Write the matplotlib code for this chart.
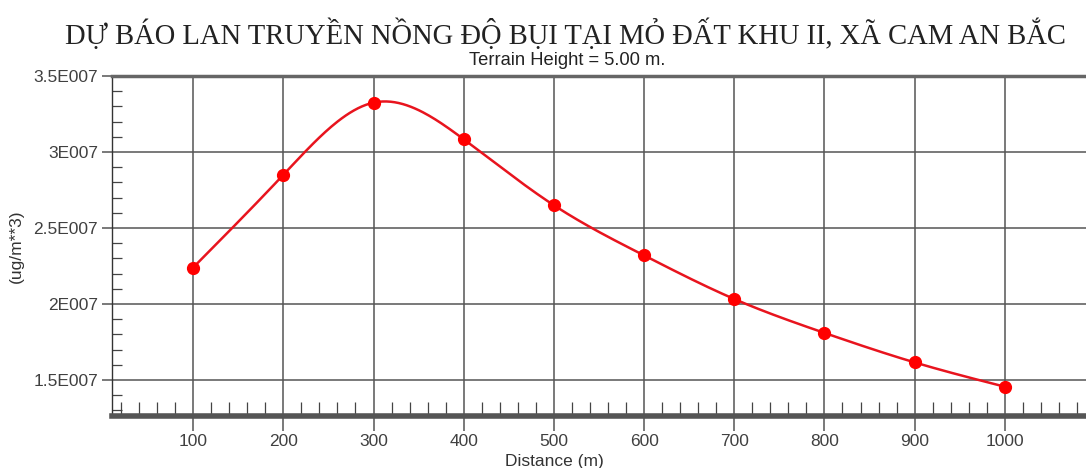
import matplotlib
matplotlib.use("Agg")
import matplotlib.pyplot as plt
import numpy as np
from matplotlib.ticker import MultipleLocator, FixedLocator, FuncFormatter

# du lieu doc tu hinh
distance = [100, 200, 300, 400, 500, 600, 700, 800, 900, 1000]
conc = [2.24e7, 2.85e7, 3.325e7, 3.084e7, 2.65e7, 2.32e7, 2.033e7, 1.81e7, 1.616e7, 1.456e7]
ytick_vals = [1.5e7, 2e7, 2.5e7, 3e7, 3.5e7]
ytick_text = ["1.5E007", "2E007", "2.5E007", "3E007", "3.5E007"]
xtick_vals = [100, 200, 300, 400, 500, 600, 700, 800, 900, 1000]

plt.rcParams['font.family'] = ['Liberation Sans', 'DejaVu Sans']


def natural_spline(x, y, n=400):
    # duong cong tron qua cac diem (spline tu nhien)
    x = np.asarray(x, float)
    y = np.asarray(y, float)
    k = len(x)
    h = np.diff(x)
    A = np.zeros((k, k))
    b = np.zeros(k)
    A[0, 0] = A[-1, -1] = 1
    for i in range(1, k - 1):
        A[i, i - 1] = h[i - 1]
        A[i, i] = 2 * (h[i - 1] + h[i])
        A[i, i + 1] = h[i]
        b[i] = 6 * ((y[i + 1] - y[i]) / h[i] - (y[i] - y[i - 1]) / h[i - 1])
    M = np.linalg.solve(A, b)
    xs = np.linspace(x[0], x[-1], n)
    idx = np.clip(np.searchsorted(x, xs) - 1, 0, k - 2)
    x0, x1 = x[idx], x[idx + 1]
    hh = x1 - x0
    t0, t1 = x1 - xs, xs - x0
    ys = (M[idx] * t0 ** 3 + M[idx + 1] * t1 ** 3) / (6 * hh) \
        + (y[idx] / hh - M[idx] * hh / 6) * t0 \
        + (y[idx + 1] / hh - M[idx + 1] * hh / 6) * t1
    return xs, ys


fig = plt.figure(figsize=(10.86, 4.68), dpi=100)
ax = fig.add_axes([0.1031, 0.111, 0.8969, 0.7265])

xs, ys = natural_spline(distance, conc)
ax.plot(xs, ys, color="#e8141e", lw=1.8, zorder=3)
ax.plot(distance, conc, "o", color="#ff0000", ms=8.5, zorder=4)

ax.set_xlim(10, 1090)
ax.set_ylim(1.263e7, 3.5e7)

ax.xaxis.set_major_locator(FixedLocator(xtick_vals))
ax.xaxis.set_minor_locator(MultipleLocator(20))
ax.yaxis.set_major_locator(FixedLocator(ytick_vals))
ax.yaxis.set_minor_locator(MultipleLocator(1e6))
ax.yaxis.set_major_formatter(FuncFormatter(lambda v, p: ytick_text[ytick_vals.index(v)] if v in ytick_vals else ""))

ax.grid(True, which="major", color="#555555", lw=1.1)
ax.tick_params(axis="both", which="major", direction="out", color="#555555",
               labelsize=12.5, labelcolor="#404040", width=1.1)
ax.tick_params(axis="x", which="major", length=11, pad=2)
ax.tick_params(axis="y", which="major", length=7, pad=3)
ax.tick_params(axis="both", which="minor", direction="in", length=7, color="#444444", width=0.9)
ax.tick_params(axis="x", which="minor", length=10)

ax.spines["right"].set_visible(False)
ax.spines["top"].set_color("#666666")
ax.spines["top"].set_linewidth(2.5)
ax.spines["left"].set_color("#333333")
ax.spines["left"].set_linewidth(1.0)
ax.spines["bottom"].set_color("#555555")
ax.spines["bottom"].set_linewidth(4)

ax.set_xlabel("Distance (m)", fontsize=12.5, color="#333333")
ax.xaxis.set_label_coords(0.454, -0.112)
ax.set_ylabel("(ug/m**3)", fontsize=12.5, color="#333333")
ax.yaxis.set_label_coords(-0.09, 0.5)

fig.text(0.521, 0.907, "DỰ BÁO LAN TRUYỀN NỒNG ĐỘ BỤI TẠI MỎ ĐẤT KHU II, XÃ CAM AN BẮC",
         ha="center", va="baseline", fontsize=20.6, family="Liberation Serif", color="#222222")
fig.text(0.522, 0.862, "Terrain Height = 5.00 m.", ha="center", va="baseline",
         fontsize=13.2, color="#222222")

fig.savefig("out.png", dpi=100)
